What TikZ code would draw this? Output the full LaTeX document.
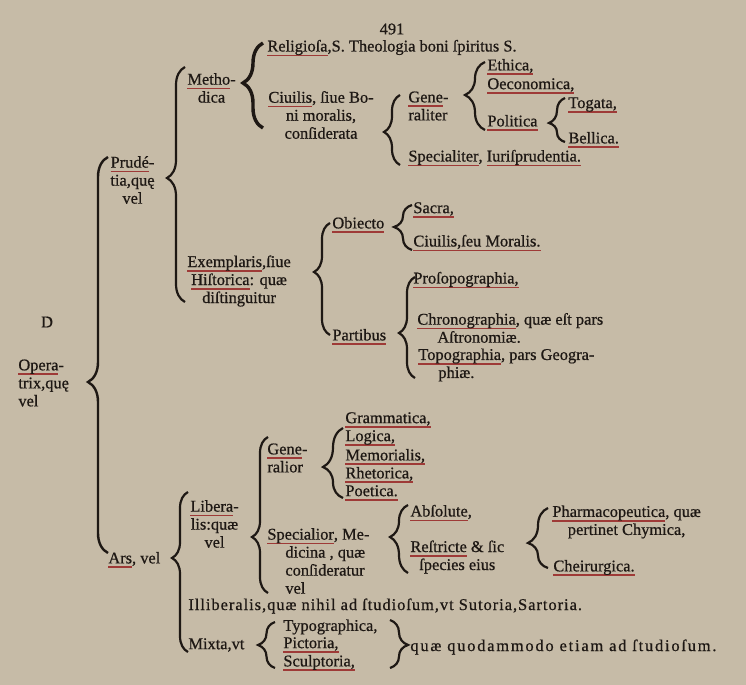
\documentclass[tikz,border=0pt]{standalone}
\usepackage{fontspec}
\setmainfont{Liberation Serif}[FakeBold=0.7]
\usetikzlibrary{decorations.pathreplacing}
\definecolor{paper}{RGB}{198,187,167}
\definecolor{ink}{RGB}{30,24,20}
\definecolor{ulred}{RGB}{158,58,55}
\newcommand{\redul}[1]{\setbox0=\hbox{#1}\rlap{\color{ulred}\rule[-2.3pt]{\wd0}{0.75pt}}\box0\relax}

\begin{document}
\begin{tikzpicture}[x=0.5pt,y=-0.5pt,
  txt/.style={anchor=west,inner sep=0pt,text=ink,font=\fontsize{8.2}{9}\selectfont},
  blk/.style={txt,align=left},
  cblk/.style={txt,align=center},
  wide/.style={txt,font=\fontsize{8.2}{9}\selectfont\addfontfeature{LetterSpace=#1}},
  brc/.style={draw=ink,decorate}
]
  \useasboundingbox (0,0) rectangle (746,685);
  \fill[paper] (0,0) rectangle (746,685);

  \node[txt,anchor=center] (pg) at (392,29) {491};
  \node[txt] (relig) at (267,48) {\redul{Religioſa},S. Theologia boni ſpiritus S.};
  \node[cblk] (meth) at (187,88) {\redul{Metho}-\\dica};
  \node[cblk] (ciuil) at (268,115) {\redul{Ciuilis}, ſiue Bo-\\ni moralis,\\conſiderata};
  \node[blk] (genr) at (408,106) {\redul{Gene}-\\raliter};
  \node[txt] (ethica) at (487,67) {\redul{Ethica,}};
  \node[txt] (oecon) at (487,86) {\redul{Oeconomica,}};
  \node[txt] (polit) at (487,123) {\redul{Politica}};
  \node[txt] (togata) at (568,105) {\redul{Togata,}};
  \node[txt] (bellica) at (568,140) {\redul{Bellica.}};
  \node[txt] (specr) at (408,158) {\redul{Specialiter}, \redul{Iuriſprudentia.}};
  \node[cblk] (prud) at (110,180) {\redul{Prudé}-\\tia,quę\\vel};
  \node[cblk] (exempl) at (187,281) {\redul{Exemplaris},ſiue\\\redul{Hiſtorica}: quæ\\diſtinguitur};
  \node[txt] (obiecto) at (332,225) {\redul{Obiecto}};
  \node[txt] (sacra) at (413,210) {\redul{Sacra,}};
  \node[txt] (ciuilmor) at (413,243) {\redul{Ciuilis,ſeu Moralis.}};
  \node[txt] (partib) at (332,337) {\redul{Partibus}};
  \node[txt] (prosop) at (413,280) {\redul{Proſopographia,}};
  \node[blk] (chrono) at (417,328) {\redul{Chronographia}, quæ eſt pars\\\hspace*{10pt}Aſtronomiæ.};
  \node[blk] (topo) at (418,365) {\redul{Topographia}, pars Geogra-\\\hspace*{10pt}phiæ.};
  \node[txt,anchor=center] (lettD) at (47,322) {D};
  \node[blk] (operx) at (18,383) {\redul{Opera}-\\trix,quę\\vel};
  \node[txt] (ars) at (108,560) {\redul{Ars}, vel};
  \node[cblk] (libr) at (190,524) {\redul{Libera}-\\lis:quæ\\vel};
  \node[blk] (genl) at (267,458) {\redul{Gene}-\\ralior};
  \node[txt] (gramm) at (345,420) {\redul{Grammatica,}};
  \node[txt] (logica) at (345,438) {\redul{Logica,}};
  \node[txt] (memor) at (345,457) {\redul{Memorialis,}};
  \node[txt] (rhet) at (345,475) {\redul{Rhetorica,}};
  \node[txt] (poet) at (345,493) {\redul{Poetica.}};
  \node[blk] (specl) at (267,561) {\redul{Specialior}, Me-\\\hspace*{9pt}dicina , quæ\\\hspace*{9pt}conſideratur\\\hspace*{9pt}vel};
  \node[txt] (absol) at (410,513) {\redul{Abſolute},};
  \node[cblk] (restr) at (410,557) {\redul{Reſtricte} \& ſic\\ſpecies eius};
  \node[cblk] (pharm) at (552,522) {\redul{Pharmacopeutica}, quæ\\pertinet Chymica,};
  \node[txt] (cheir) at (553,568) {\redul{Cheirurgica.}};
  \node[wide=6] (illib) at (188,606) {Illiberalis,quæ nihil ad ſtudioſum,vt Sutoria,Sartoria.};
  \node[txt] (mixta) at (188,645) {Mixta,vt};
  \node[txt] (typo) at (283,627) {Typographica,};
  \node[txt] (pict) at (283,645) {\redul{Pictoria,}};
  \node[txt] (sculpt) at (283,663) {\redul{Sculptoria,}};
  \node[wide=11] (quae) at (410,647) {quæ quodammodo etiam ad ſtudioſum.};

  % braces: name/x/top/bottom/cusp/amplitude/width
  \foreach \nm/\bx/\bt/\bb/\bc/\ba/\bw in {
    meth/263/43/128/83/20/1.7, prud/185/67/302/178/18/1.1,
    operx/108/157/553/382/20/1.2, ciuil/400/95/165/132/16/1.1,
    genr/485/62/130/95/20/1.1, polit/565/98/142/123/16/1.1,
    exempl/330/223/335/272/16/1.1, obiecto/412/205/250/227/18/1.1,
    partib/415/277/378/333/16/1.1, genl/343/428/498/467/20/1.1,
    libr/268/437/593/537/16/1.1, specl/408/505/573/537/18/1.1,
    restr/548/508/568/543/20/1.1, ars/188/492/652/558/16/1.1,
    mixta/275/622/668/645/17/1.1} {
    \coordinate (\nm-t) at (\bx,\bt);
    \coordinate (\nm-b) at (\bx,\bb);
    \pgfmathsetmacro\asp{(\bb-\bc)/(\bb-\bt)}
    \pgfmathsetmacro\amp{\ba*0.5}
    \draw[brc,line width=\bw pt,decoration={brace,amplitude=\amp pt,aspect=\asp}] (\nm-b) -- (\nm-t);
  }
  \coordinate (quae-t) at (390,620);
  \coordinate (quae-b) at (390,668);
  \draw[brc,line width=1.1pt,decoration={brace,amplitude=9pt,aspect=0.52}] (quae-t) -- (quae-b);
\end{tikzpicture}
\end{document}
